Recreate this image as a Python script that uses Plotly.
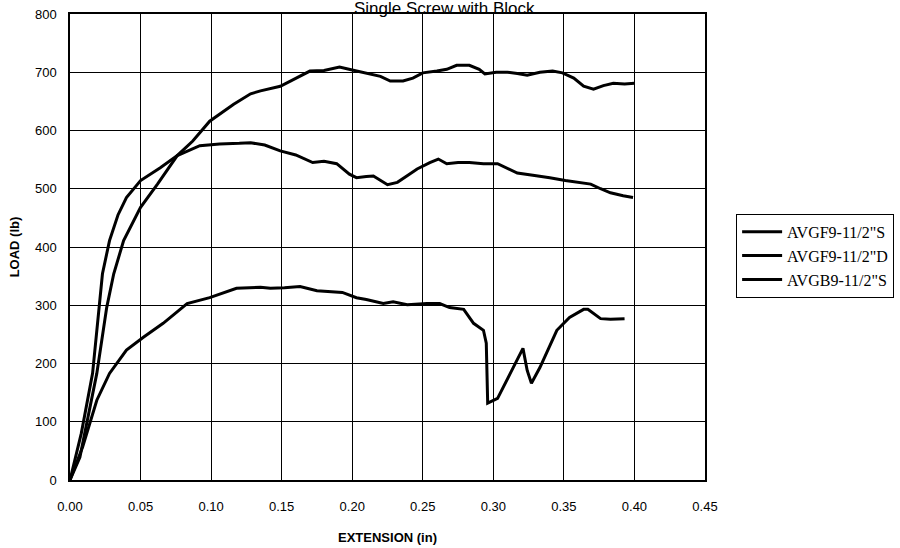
import plotly.graph_objects as go

names = ['AVGF9-11/2"S', 'AVGF9-11/2"D', 'AVGB9-11/2"S']

a_x = [0, 0.007, 0.019, 0.026, 0.031, 0.038, 0.050, 0.062, 0.076, 0.087, 0.099, 0.116, 0.128, 0.135,
       0.149, 0.160, 0.170, 0.180, 0.191, 0.200, 0.210, 0.220, 0.227, 0.236, 0.243, 0.250, 0.260, 0.267,
       0.274, 0.283, 0.290, 0.294, 0.302, 0.310, 0.317, 0.324, 0.333, 0.342, 0.349, 0.357, 0.364, 0.371,
       0.378, 0.385, 0.393, 0.400]
a_y = [0, 39, 183, 296, 354, 411, 468, 508, 557, 582, 616, 645, 663, 668,
       676, 690, 702, 703, 709, 704, 699, 693, 685, 685, 690, 699, 702, 705,
       712, 712, 705, 697, 700, 700, 698, 695, 700, 702, 699, 690, 676, 671,
       677, 681, 680, 681]

b_x = [0, 0.008, 0.016, 0.023, 0.028, 0.034, 0.040, 0.050, 0.064, 0.076, 0.092, 0.106, 0.120, 0.128,
       0.138, 0.149, 0.160, 0.172, 0.180, 0.189, 0.198, 0.203, 0.210, 0.215, 0.225, 0.232, 0.240, 0.246,
       0.255, 0.261, 0.267, 0.275, 0.283, 0.293, 0.303, 0.310, 0.317, 0.328, 0.340, 0.351, 0.360, 0.369,
       0.376, 0.383, 0.392, 0.399]
b_y = [0, 80, 183, 354, 411, 455, 485, 514, 536, 557, 574, 577, 578, 579,
       575, 565, 558, 545, 547, 543, 525, 519, 521, 522, 507, 511, 524, 534,
       545, 551, 543, 545, 545, 543, 543, 535, 527, 523, 519, 514, 511, 508,
       500, 493, 488, 485]

c_x = [0, 0.009, 0.019, 0.028, 0.040, 0.052, 0.066, 0.083, 0.099, 0.118, 0.135, 0.142, 0.152, 0.163,
       0.175, 0.193, 0.203, 0.210, 0.222, 0.229, 0.239, 0.253, 0.262, 0.269, 0.279, 0.286, 0.293, 0.295,
       0.296, 0.303, 0.312, 0.321, 0.324, 0.327, 0.333, 0.345, 0.354, 0.364, 0.367, 0.376, 0.383, 0.393]
c_y = [0, 57, 137, 183, 223, 245, 269, 303, 313, 329, 331, 329, 330, 332,
       325, 322, 313, 310, 303, 306, 301, 303, 303, 296, 293, 269, 257, 235,
       132, 140, 183, 226, 188, 166, 193, 257, 279, 293, 293, 277, 276, 277]

x_ticks = [0, 0.05, 0.10, 0.15, 0.20, 0.25, 0.30, 0.35, 0.40, 0.45]
y_ticks = [0, 100, 200, 300, 400, 500, 600, 700, 800]

fig = go.Figure()
for nm, xs, ys in [(names[0], a_x, a_y), (names[1], b_x, b_y), (names[2], c_x, c_y)]:
    fig.add_trace(go.Scatter(x=xs, y=ys, mode='lines', name=nm,
                             line=dict(color='black', width=3)))

axis_common = dict(showgrid=True, gridcolor='black', gridwidth=1, showline=True,
                   linecolor='black', linewidth=1.5, mirror=True, zeroline=False,
                   automargin=False,
                   tickfont=dict(family='Arial, Liberation Sans', size=13, color='black'))

fig.update_xaxes(range=[0, 0.45], tickvals=x_ticks, tickformat='.2f',
                 ticklabelstandoff=14,
                 title=dict(text='<b>EXTENSION (in)</b>', standoff=20,
                            font=dict(family='Arial, Liberation Sans', size=13, color='black')),
                 **axis_common)
fig.update_yaxes(range=[0, 800], tickvals=y_ticks, ticklabelstandoff=9,
                 title=dict(text='<b>LOAD (lb)</b>', standoff=12,
                            font=dict(family='Arial, Liberation Sans', size=13, color='black')),
                 **axis_common)

fig.add_annotation(text='Single Screw with Block', xref='paper', yref='paper',
                   x=0.589, y=1.037, xanchor='center', yanchor='top', showarrow=False,
                   font=dict(family='Arial, Liberation Sans', size=17, color='black'))

fig.update_layout(
    width=900, height=548,
    margin=dict(l=70, r=195, t=14, b=68, autoexpand=False),
    paper_bgcolor='white', plot_bgcolor='white',
    showlegend=True,
    legend=dict(x=1.049, y=0.571, xanchor='left', yanchor='top',
                bordercolor='black', borderwidth=1, bgcolor='white',
                font=dict(family='Liberation Serif, Times New Roman', size=16, color='black'),
                tracegroupgap=0, itemwidth=40),
)

fig.write_html('out.html', config={'displayModeBar': False},
               post_script="document.body.style.margin='0';")
